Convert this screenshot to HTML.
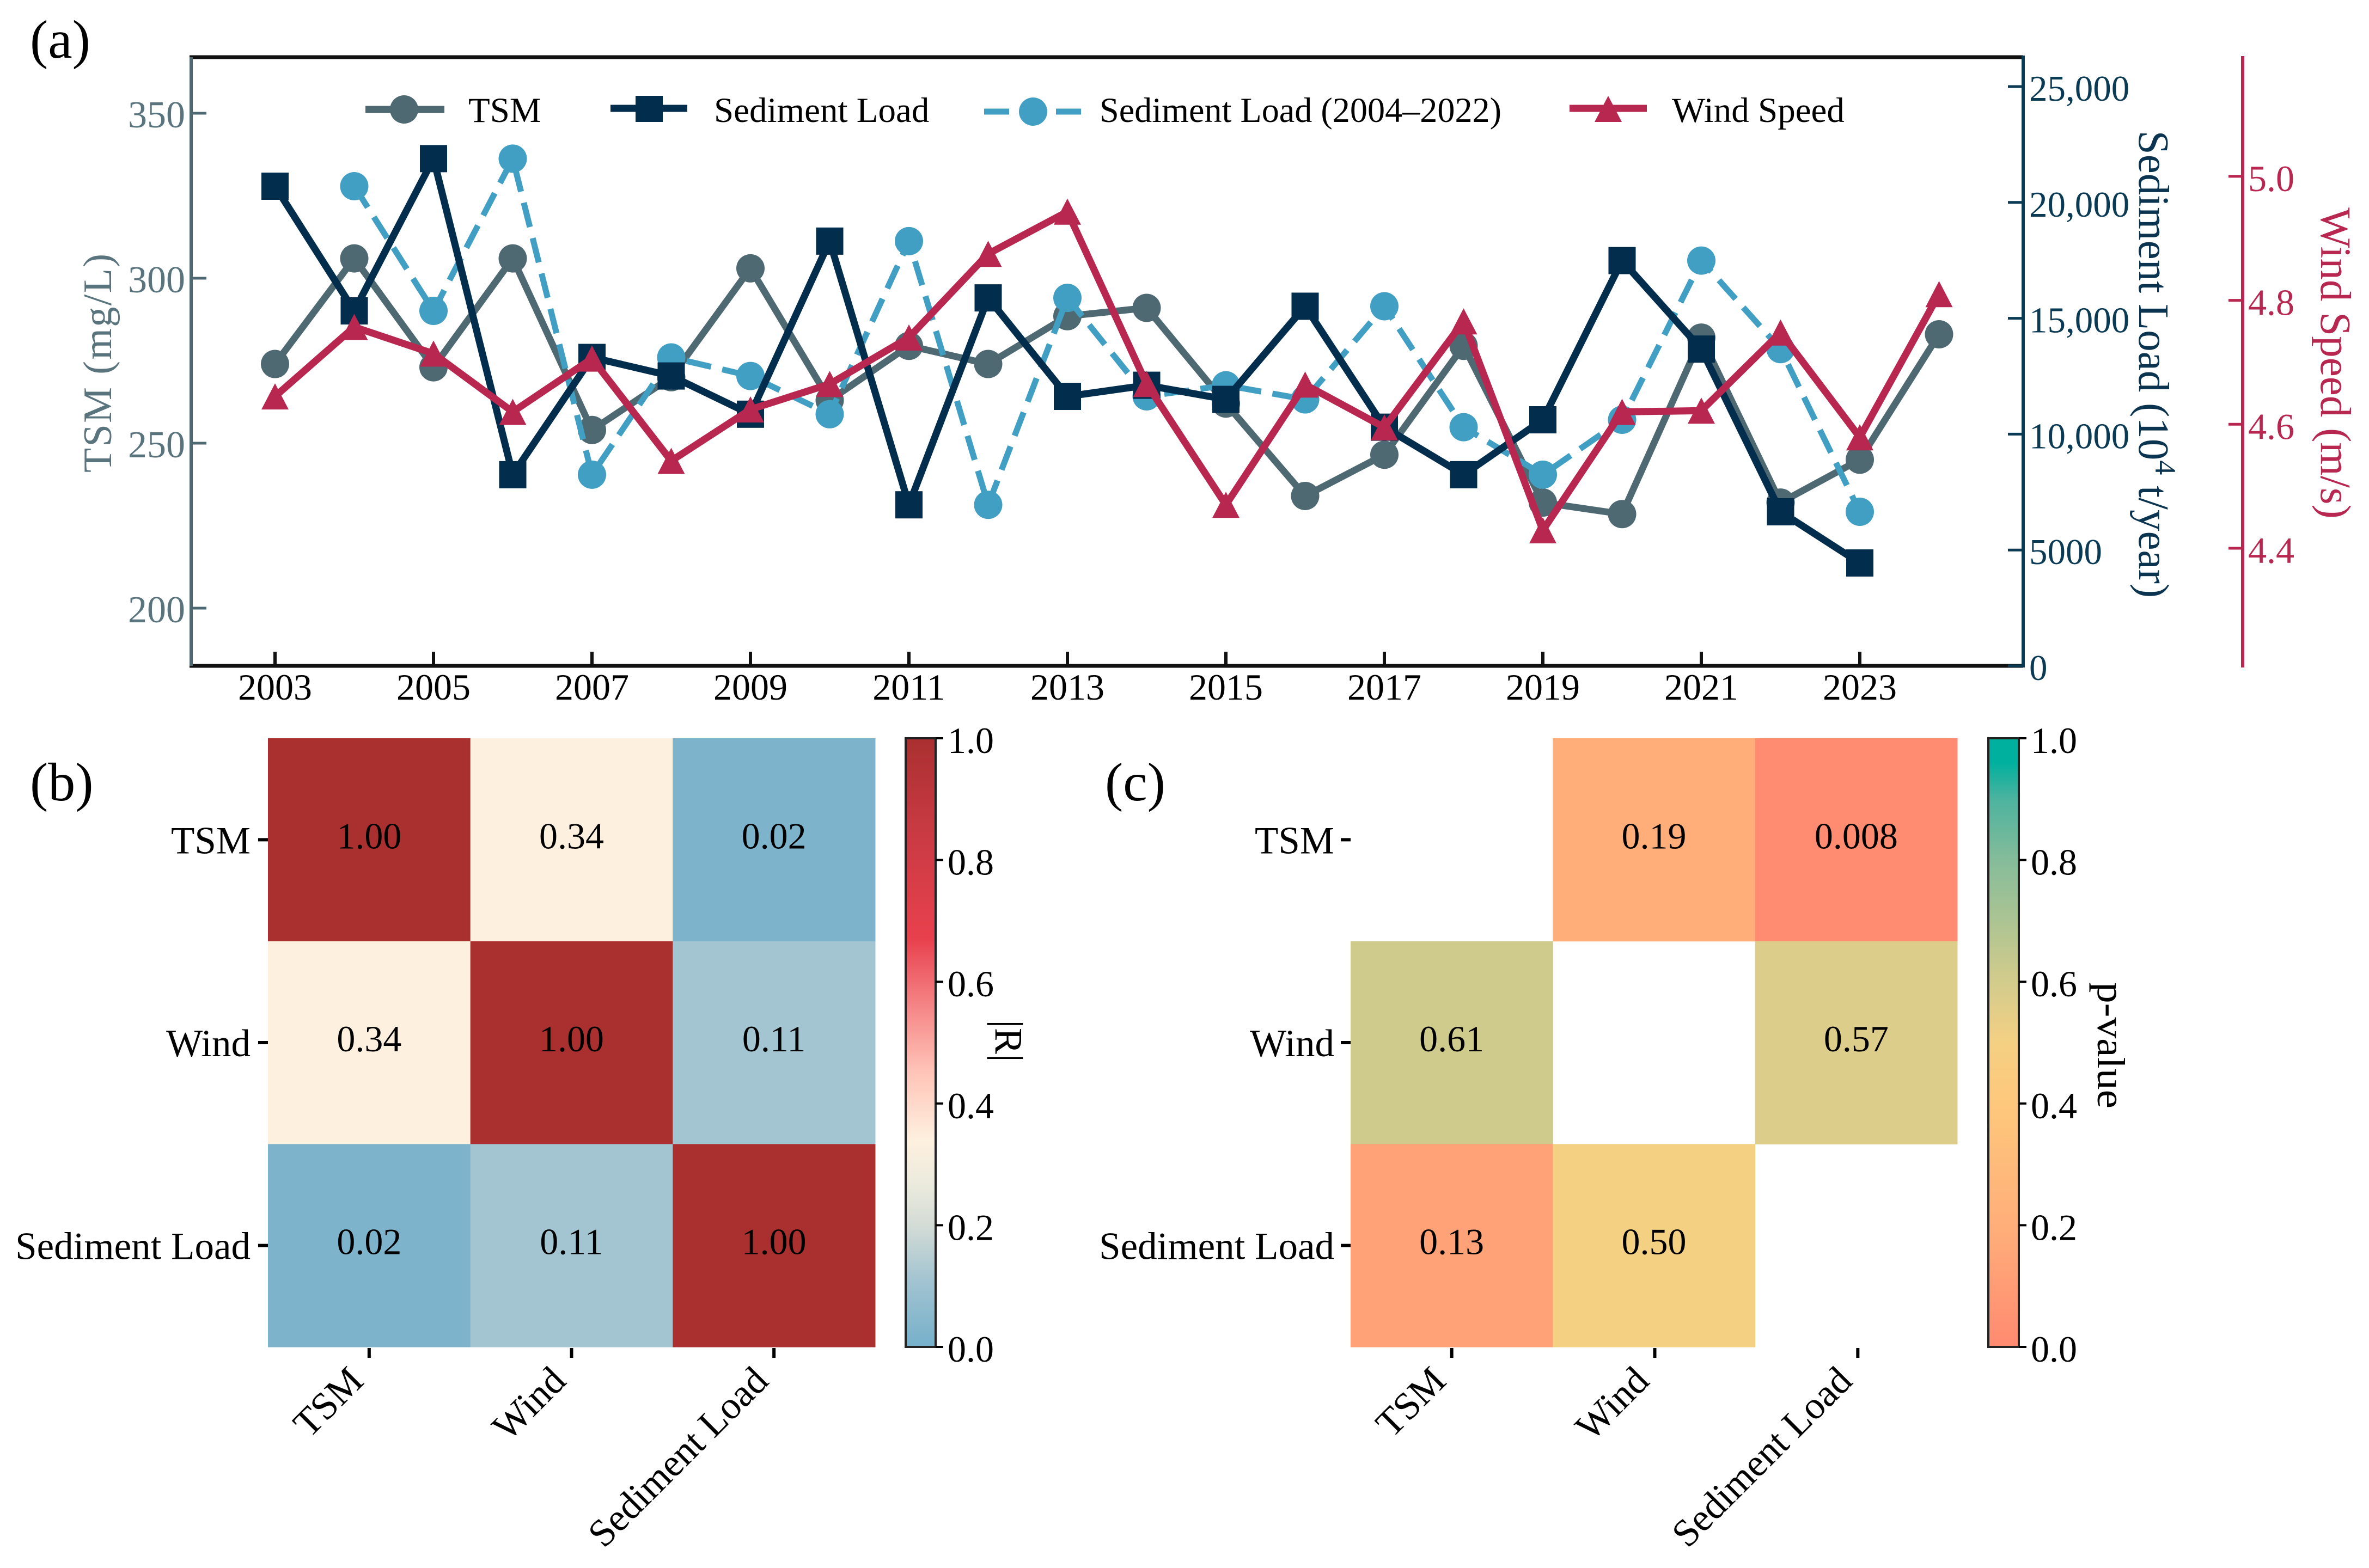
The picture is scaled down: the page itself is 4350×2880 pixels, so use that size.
<!DOCTYPE html>
<html lang="en">
<head>
<meta charset="utf-8">
<title>TSM, sediment load and wind speed</title>
<style>
html,body{margin:0;padding:0;background:#fff;width:4350px;height:2880px;overflow:hidden}
svg{display:block;font-family:"Liberation Serif",serif}
</style>
</head>
<body>
<svg id="fig" xmlns="http://www.w3.org/2000/svg" width="4350" height="2880" viewBox="0 0 4350 2880">
  <defs>
    <linearGradient id="grad-r" x1="0" y1="1" x2="0" y2="0"></linearGradient>
    <linearGradient id="grad-p" x1="0" y1="1" x2="0" y2="0"></linearGradient>
  </defs>
  <rect width="4350" height="2880" fill="#fff"/>
  <text x="55" y="106" font-size="100" fill="#000">(a)</text>
  <text x="55" y="1470" font-size="100" fill="#000">(b)</text>
  <text x="2029" y="1470" font-size="100" fill="#000">(c)</text>

  <g id="series-layer"></g>
  <g id="axes-layer"></g>

  <text transform="translate(204,667) rotate(-90)" text-anchor="middle" font-size="74" fill="#5a747d" textLength="402" lengthAdjust="spacing">TSM (mg/L)</text>
  <text transform="translate(3928,669) rotate(90)" text-anchor="middle" font-size="79" fill="#0b3450">Sediment Load (10<tspan font-size="54" dy="-30">4</tspan><tspan dy="30"> t/year)</tspan></text>
  <text transform="translate(4262,667) rotate(90)" text-anchor="middle" font-size="79" fill="#b72750">Wind Speed (m/s)</text>

  <g id="legend">
    <g>
      <line x1="671" y1="201" x2="816" y2="201" stroke="#4f6972" stroke-width="13"/>
      <circle cx="742" cy="201" r="26" fill="#4f6972"/>
      <text x="860" y="224" font-size="65" fill="#000">TSM</text>
    </g>
    <g>
      <line x1="1121" y1="199" x2="1262" y2="199" stroke="#022d4c" stroke-width="13"/>
      <rect x="1167" y="176" width="50" height="48" fill="#022d4c"/>
      <text x="1311" y="224" font-size="65" fill="#000">Sediment Load</text>
    </g>
    <g>
      <line x1="1807" y1="205" x2="1990" y2="205" stroke="#429fc4" stroke-width="11" stroke-dasharray="46 20"/>
      <circle cx="1897" cy="205" r="26" fill="#429fc4"/>
      <text x="2019" y="224" font-size="65" fill="#000" textLength="738" lengthAdjust="spacingAndGlyphs">Sediment Load (2004–2022)</text>
    </g>
    <g>
      <line x1="2882" y1="199" x2="3024" y2="199" stroke="#b72750" stroke-width="13"/>
      <polygon points="2953,176 2978,224 2928,224" fill="#b72750"/>
      <text x="3070" y="224" font-size="65" fill="#000">Wind Speed</text>
    </g>
  </g>

  <g id="heat-r"></g>
  <g id="heat-p"></g>

  <text transform="translate(1828,1912) rotate(90)" text-anchor="middle" font-size="72" fill="#000">|R|</text>
  <text transform="translate(3852,1920) rotate(90)" text-anchor="middle" font-size="72" fill="#000" textLength="232" lengthAdjust="spacingAndGlyphs">p-value</text>
</svg>

<script>
// ---- Panel (a) data ----
const years = [2003,2004,2005,2006,2007,2008,2009,2010,2011,2012,2013,2014,2015,2016,2017,2018,2019,2020,2021,2022,2023,2024];
const tsmValues = [274,306,273,306,254,270,303,263,279.5,274,288.5,291,262,234,246.5,279.5,232,228.5,282,232,245,283];
const sedimentYears = [2003,2004,2005,2006,2007,2008,2009,2010,2011,2012,2013,2014,2015,2016,2017,2018,2019,2020,2021,2022,2023];
const sedimentValues = [20700,15320,21890,8250,13310,12510,10860,18330,6950,15880,11630,12110,11500,15520,10300,8250,10620,17490,13670,6650,4440];
const sedimentShiftYears = [2004,2005,2006,2007,2008,2009,2010,2011,2012,2013,2014,2015,2016,2017,2018,2019,2020,2021,2022,2023];
const sedimentShiftValues = [20700,15320,21890,8250,13310,12510,10860,18330,6950,15880,11630,12110,11500,15520,10300,8250,10620,17490,13670,6650];
const windValues = [4.645,4.757,4.714,4.62,4.706,4.541,4.624,4.665,4.74,4.875,4.943,4.665,4.47,4.664,4.595,4.766,4.429,4.62,4.622,4.748,4.579,4.81];
const xTickYears = [2003,2005,2007,2009,2011,2013,2015,2017,2019,2021,2023];
const tsmTicks = [200,250,300,350];
const sedimentTicks = [0,5000,10000,15000,20000,25000];
const sedimentTickLabels = ['0','5000','10,000','15,000','20,000','25,000'];
const windTicks = [4.4,4.6,4.8,5.0];

// ---- Panels (b), (c) data ----
const heatLabels = ['TSM','Wind','Sediment Load'];
const rMatrix = [[1.00,0.34,0.02],[0.34,1.00,0.11],[0.02,0.11,1.00]];
const rText = [['1.00','0.34','0.02'],['0.34','1.00','0.11'],['0.02','0.11','1.00']];
const pMatrix = [[null,0.19,0.008],[0.61,null,0.57],[0.13,0.50,null]];
const pText = [['','0.19','0.008'],['0.61','','0.57'],['0.13','0.50','']];
const colorbarTicks = [0,0.2,0.4,0.6,0.8,1.0];

// ---- Colour maps ----
const rStops = [[0,'#75b0ca'],[0.11,'#a3c4d1'],[0.2,'#d4dcd6'],[0.27,'#ecebdd'],[0.34,'#fef0df'],[0.45,'#ffc5b8'],[0.55,'#f68b8b'],[0.67,'#e8414e'],[0.85,'#c83a42'],[1,'#aa3030']];
const pStops = [[0,'#ff8a70'],[0.13,'#ffa277'],[0.19,'#ffad79'],[0.4,'#fec87c'],[0.5,'#f4d083'],[0.57,'#dccd8a'],[0.61,'#cfcb8c'],[0.8,'#85bc9a'],[0.9,'#4cb39f'],[0.96,'#00b09e'],[1,'#00b09e']];

const NS = 'http://www.w3.org/2000/svg';
function make(tag, parent, props, text){
  const el = document.createElementNS(NS, tag);
  for (const k in props) el.setAttribute(k, props[k]);
  if (text !== undefined) el.textContent = text;
  parent.appendChild(el);
  return el;
}
function hexRgb(h){return [1,3,5].map(i=>parseInt(h.substr(i,2),16));}
function cmap(stops, v){
  v = Math.max(0, Math.min(1, v));
  for (let i = 1; i < stops.length; i++){
    if (v <= stops[i][0]){
      const t = (v - stops[i-1][0]) / (stops[i][0] - stops[i-1][0]);
      const a = hexRgb(stops[i-1][1]), b = hexRgb(stops[i][1]);
      return 'rgb(' + a.map((c,j)=>Math.round(c + (b[j]-c)*t)).join(',') + ')';
    }
  }
  return stops[stops.length-1][1];
}

// ---- Axis functions ----
const xYear = y => 505 + (y - 2003) * 145.5;
const yTsm = v => 1117 - (v - 200) * 6.06;
const ySed = v => 1223 - v * 0.04256;
const yWind = v => 1007 - (v - 4.4) * 1138.5;

const PLOT = {l:351, r:3715, t:105, b:1223};
const axes = document.getElementById('axes-layer');
const series = document.getElementById('series-layer');

function pointsAttr(xs, ys, fx, fy){
  return xs.map((x,i)=>fx(x).toFixed(1)+','+fy(ys[i]).toFixed(1)).join(' ');
}

// TSM series
{
  const line = make('polyline', series, {points:pointsAttr(years,tsmValues,xYear,yTsm), fill:'none', stroke:'#4f6972', 'stroke-width':12.5, 'stroke-linejoin':'miter'});
  
  
  years.forEach((yr,i)=>{
    const c = make('circle', series, {cx:xYear(yr), cy:yTsm(tsmValues[i]), r:26, fill:'#4f6972'});
    
    
  });
}
// Sediment (2004-2022) dashed series
{
  const line = make('polyline', series, {points:pointsAttr(sedimentShiftYears,sedimentShiftValues,xYear,ySed), fill:'none', stroke:'#429fc4', 'stroke-width':11, 'stroke-dasharray':'46 21'});
  
  
  sedimentShiftYears.forEach((yr,i)=>{
    const c = make('circle', series, {cx:xYear(yr), cy:ySed(sedimentShiftValues[i]), r:26, fill:'#429fc4'});
    
    
  });
}
// Sediment series
{
  const line = make('polyline', series, {points:pointsAttr(sedimentYears,sedimentValues,xYear,ySed), fill:'none', stroke:'#022d4c', 'stroke-width':13});
  
  
  sedimentYears.forEach((yr,i)=>{
    const s = make('rect', series, {x:xYear(yr)-25, y:ySed(sedimentValues[i])-25, width:50, height:50, fill:'#022d4c'});
    
    
  });
}
// Wind series
{
  const line = make('polyline', series, {points:pointsAttr(years,windValues,xYear,yWind), fill:'none', stroke:'#b72750', 'stroke-width':13});
  
  
  years.forEach((yr,i)=>{
    const x = xYear(yr), y = yWind(windValues[i]);
    const t = make('polygon', series, {points:(x)+','+(y-24)+' '+(x+25)+','+(y+24)+' '+(x-25)+','+(y+24), fill:'#b72750'});
    
    
  });
}

// Spines
{
  const top = make('line', axes, {x1:PLOT.l-3, y1:PLOT.t, x2:PLOT.r, y2:PLOT.t, stroke:'#111', 'stroke-width':7});
  
  
  const bottom = make('line', axes, {x1:PLOT.l-3, y1:PLOT.b, x2:PLOT.r, y2:PLOT.b, stroke:'#111', 'stroke-width':7});
  
  
  const left = make('line', axes, {x1:PLOT.l, y1:PLOT.t, x2:PLOT.l, y2:PLOT.b, stroke:'#4f6972', 'stroke-width':6});
  
  
  const right = make('line', axes, {x1:PLOT.r, y1:PLOT.t-3, x2:PLOT.r, y2:PLOT.b+3, stroke:'#0b3a55', 'stroke-width':6});
  
  
  const wind = make('line', axes, {x1:4118, y1:103, x2:4118, y2:1226, stroke:'#b72750', 'stroke-width':6});
  
  
}
// X ticks
xTickYears.forEach(yr=>{
  const t = make('line', axes, {x1:xYear(yr), y1:1197, x2:xYear(yr), y2:PLOT.b, stroke:'#111', 'stroke-width':6});
  
  
  const l = make('text', axes, {x:xYear(yr), y:1285, 'text-anchor':'middle', 'font-size':68, fill:'#000'}, String(yr));
  
  
});
// TSM ticks
tsmTicks.forEach(v=>{
  const t = make('line', axes, {x1:PLOT.l, y1:yTsm(v), x2:379, y2:yTsm(v), stroke:'#4f6972', 'stroke-width':5});
  
  
  const l = make('text', axes, {x:340, y:yTsm(v)+26, 'text-anchor':'end', 'font-size':70, fill:'#5a747d'}, String(v));
  
  
});
// Sediment ticks
sedimentTicks.forEach((v,i)=>{
  const t = make('line', axes, {x1:3687, y1:ySed(v), x2:PLOT.r, y2:ySed(v), stroke:'#0b3a55', 'stroke-width':5});
  
  
  const l = make('text', axes, {x:3726, y:ySed(v)+26, 'font-size':67, fill:'#0b3a55'}, sedimentTickLabels[i]);
  
  
});
// Wind ticks
windTicks.forEach(v=>{
  const t = make('line', axes, {x1:4092, y1:yWind(v), x2:4118, y2:yWind(v), stroke:'#b72750', 'stroke-width':5});
  
  
  const l = make('text', axes, {x:4128, y:yWind(v)+27, 'font-size':68, fill:'#b72750'}, v.toFixed(1));
  
  
});

// ---- Heatmaps ----
function drawHeat(groupId, matrix, texts, stops, gradId, o){
  const g = document.getElementById(groupId);
  const cw = (o.right - o.left) / 3, ch = (o.bottom - o.top) / 3;
  const yScale = v => o.bottom - v * (o.bottom - o.top);
  matrix.forEach((row,r)=>row.forEach((v,c)=>{
    if (v === null) return;
    const cell = make('rect', g, {x:o.left + c*cw, y:o.top + r*ch, width:cw+0.5, height:ch+0.5, fill:cmap(stops,v)});
    
    
    const t = make('text', g, {x:o.left + (c+0.5)*cw, y:o.top + (r+0.5)*ch + 16, 'text-anchor':'middle', 'font-size':68, fill:'#000'}, texts[r][c]);
    
    
  }));
  heatLabels.forEach((name,i)=>{
    const yc = o.top + (i+0.5)*ch;
    const tk = make('line', g, {x1:o.left-18, y1:yc, x2:o.left, y2:yc, stroke:'#000', 'stroke-width':6});
    
    
    const yl = make('text', g, {x:o.left-o.labelGap, y:yc+25, 'text-anchor':'end', 'font-size':71, fill:'#000'}, name);
    
    
    const xc = o.left + (i+0.5)*cw + o.tickShift*i;
    const xt = make('line', g, {x1:xc, y1:o.bottom+2, x2:xc, y2:o.bottom+20, stroke:'#000', 'stroke-width':6});
    
    
    const xl = make('text', g, {transform:'translate('+(xc-7)+','+(o.bottom+66)+') rotate(-45)', 'text-anchor':'end', 'font-size':71, fill:'#000'}, name);
    
    
  });
  // colorbar
  const grad = document.getElementById(gradId);
  stops.forEach(s=>{
    make('stop', grad, {offset:s[0], 'stop-color':s[1]});
  });
  const bar = make('rect', g, {x:o.cbL, y:o.top, width:o.cbR-o.cbL, height:o.bottom-o.top, fill:'url(#'+gradId+')', stroke:'#222', 'stroke-width':4});
  
  
  colorbarTicks.forEach(v=>{
    const tk = make('line', g, {x1:o.cbR, y1:yScale(v), x2:o.cbR+14, y2:yScale(v), stroke:'#000', 'stroke-width':4});
    
    
    const tl = make('text', g, {x:o.cbR+22, y:yScale(v)+27, 'font-size':68, fill:'#000'}, v.toFixed(1));
    
    
  });
}
drawHeat('heat-r', rMatrix, rText, rStops, 'grad-r', {left:492, right:1607, top:1356, bottom:2474, cbL:1663, cbR:1718, tickShift:0, labelGap:32});
drawHeat('heat-p', pMatrix, pText, pStops, 'grad-p', {left:2480, right:3594, top:1356, bottom:2474, cbL:3651, cbR:3707, tickShift:1.5, labelGap:30});
</script>
</body>
</html>
